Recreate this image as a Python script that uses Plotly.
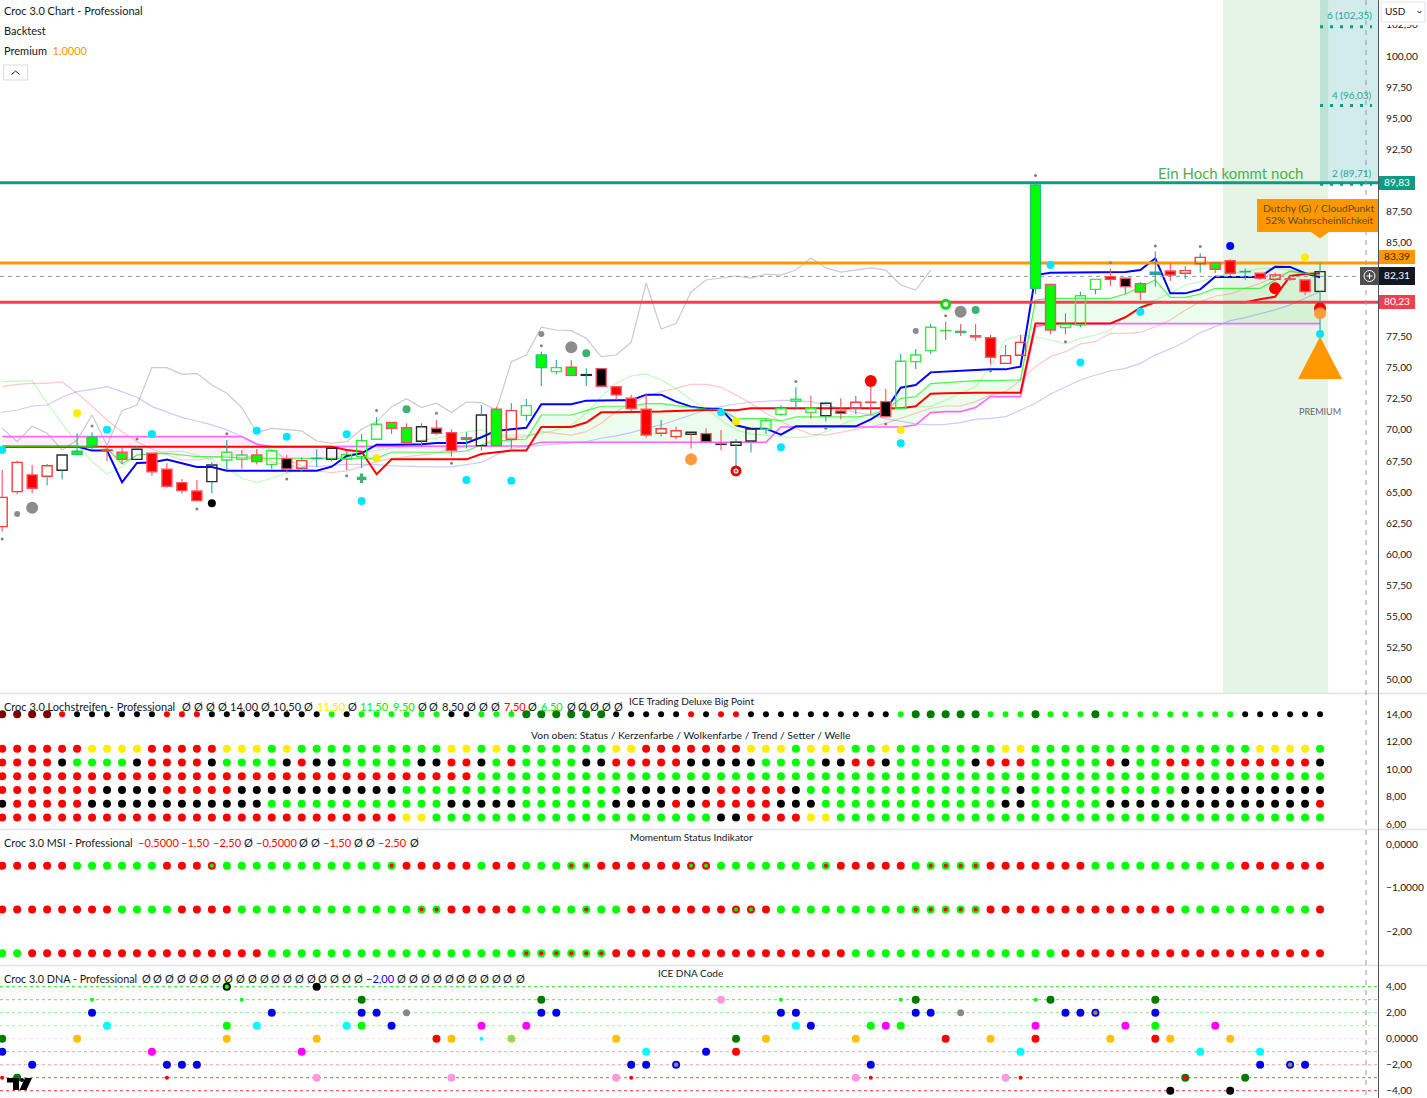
import plotly.graph_objects as go

W, H = 1427, 1098
FONT = "Lato"
TICK_FONT = "Lato"
N = 89
bars = list(range(N))

# ---------- candles (open, high, low, close) ----------
opens = [64.58,67.39,66.38,66.27,66.75,68.01,68.76,68.38,68.2,67.63,68.12,66.83,65.76,65.09,65.84,67.58,67.98,67.98,67.23,67.69,66.91,67.69,67.63,68.03,67.85,69.24,70.6,70.17,69.08,70.12,69.77,69.24,68.73,71.65,69.24,71.16,74.99,74.67,75.02,74.37,74.91,73.46,72.53,71.65,69.72,69.93,69.8,69.69,68.85,68.76,69.1,70.04,71.24,72.29,71.73,71.14,71.51,71.73,72.22,72.26,71.73,75.47,76.35,77.97,77.9,77.55,77.39,75.33,77.02,81.35,81.67,78.2,78.41,81.27,82.29,82.16,81.73,82.48,82.74,82.56,83.33,83.39,83.57,82.68,82.56,82.42,82.12,82.02,81.11]
highs = [66.78,67.53,67.18,67.26,67.98,69.72,69.8,68.7,68.57,68.7,68.12,67.31,66.05,65.97,67.42,69.18,68.38,68.46,68.38,67.98,67.79,68.44,68.52,68.25,69.67,71.0,70.6,70.52,70.52,70.79,70.04,69.8,72.0,71.86,72.13,72.47,76.27,75.6,75.6,74.94,74.91,73.46,72.8,72.85,70.79,70.25,69.8,70.12,69.99,69.24,70.07,70.92,71.97,73.41,72.74,72.26,72.53,72.74,73.6,73.28,76.09,76.49,78.5,78.68,78.49,78.49,77.6,76.81,77.6,89.83,81.67,79.35,81.08,82.07,82.93,82.16,81.89,84.3,83.36,83.15,84.16,83.39,83.68,82.96,82.56,82.61,82.3,82.02,83.36]
lows = [61.83,64.82,64.9,65.55,66.03,68.01,68.38,67.5,67.26,67.63,66.32,65.36,64.88,64.24,64.9,66.78,66.88,67.21,66.86,66.56,66.64,67.01,67.45,66.78,66.91,69.24,69.69,69.0,68.6,69.59,67.85,68.52,68.33,68.73,68.49,70.71,73.52,74.43,74.37,73.52,73.49,72.4,71.46,69.37,69.45,69.24,68.49,69.05,68.35,67.12,68.17,69.67,71.11,71.59,70.9,70.66,70.84,71.24,71.19,71.06,71.73,74.88,76.09,77.21,77.53,77.15,75.23,75.33,75.98,80.9,77.69,77.66,78.22,80.87,81.54,80.87,80.42,81.49,81.94,82.1,82.61,82.56,82.34,82.02,82.02,81.97,81.95,80.82,77.8]
closes = [62.23,65.04,65.31,67.12,67.98,68.28,69.4,68.33,67.63,68.44,66.64,65.47,65.12,64.32,67.18,68.2,67.63,67.45,68.33,66.86,67.53,67.71,68.52,67.63,69.13,70.44,70.12,69.0,70.25,69.72,68.33,69.37,71.19,68.73,71.54,71.94,76.0,74.99,74.37,74.43,73.49,72.8,71.71,69.58,70.09,69.45,69.64,69.05,68.83,69.0,70.07,70.74,71.7,72.45,71.4,72.13,71.32,72.21,72.2,71.06,75.5,76.0,78.23,77.95,77.82,77.45,75.82,75.95,75.98,89.65,78.01,78.46,80.76,82.07,82.07,81.49,81.06,82.64,82.42,82.77,83.84,82.88,82.56,82.7,82.16,82.08,82.08,81.09,82.69]
candle_styles = "aabafddacfbbbbfeeceg" + "ahfeeeccfgbcfcaedecf" + "gbbbaafgfffeeeefgaag" + "eeeedgbaadceeebgchba" + "acbhbabbf"

# ---------- indicator lines ----------
blue_line = [68.65,68.65,68.65,68.65,68.65,68.65,68.33,68.33,65.79,67.34,67.37,67.61,67.31,67.02,67.02,66.72,66.72,66.72,66.72,66.72,66.72,66.72,67.04,67.9,68.11,68.81,68.81,68.81,68.84,68.94,68.94,68.94,69.4,69.93,70.04,70.17,72.05,72.05,72.05,72.34,72.37,72.37,72.37,72.82,72.82,72.26,71.86,71.7,71.67,70.36,70.09,70.09,69.61,70.28,70.28,70.28,70.28,70.28,70.84,71.59,73.38,73.6,74.61,74.69,74.78,74.8,74.85,74.85,75.07,82.42,82.61,82.61,82.61,82.61,82.61,82.66,82.82,83.76,80.95,80.95,81.27,82.29,82.26,82.26,82.26,83.09,83.07,82.56,82.24]
red_line = [68.65,68.65,68.65,68.65,68.65,68.65,68.65,68.65,68.65,68.65,68.65,68.65,68.65,68.65,68.65,68.65,68.65,68.65,68.65,68.65,68.65,68.65,68.65,68.38,68.25,66.43,67.63,67.63,67.63,67.63,67.63,67.63,68.06,68.19,68.33,68.33,70.23,70.23,70.23,70.58,71.4,71.4,71.4,71.4,71.46,71.51,71.57,71.59,71.59,71.57,71.73,71.73,71.73,71.73,71.73,71.73,71.73,71.73,71.73,71.73,71.73,71.89,72.9,72.93,72.97,72.97,72.97,72.97,72.97,78.54,78.54,78.54,78.54,78.54,78.54,79.03,79.8,80.23,80.23,80.23,80.23,80.23,80.23,80.23,80.47,80.68,82.34,82.5,82.56]
green_line = [68.65,68.65,68.65,68.65,68.65,68.65,68.65,68.52,67.26,67.98,68.03,68.11,67.98,67.85,67.85,67.79,67.71,67.71,67.71,67.71,67.71,67.71,67.71,67.71,67.71,67.71,68.2,68.2,68.2,68.2,68.2,68.3,68.8,69.1,69.18,69.26,71.19,71.19,71.19,71.54,71.89,71.89,71.91,72.1,72.1,71.94,71.78,71.67,71.65,70.92,70.9,70.9,70.71,71.03,71.03,71.03,71.03,71.03,71.19,71.59,72.53,72.66,73.71,73.81,73.89,73.95,73.95,73.95,74.0,80.42,80.55,80.55,80.55,80.55,80.55,80.9,81.43,82.02,80.63,80.63,80.9,81.35,81.35,81.35,81.35,82.02,82.74,82.56,82.37]
magenta_line = [69.45,69.45,69.45,69.45,69.45,69.45,69.45,69.45,69.45,69.45,69.45,69.45,69.45,69.45,69.45,69.45,69.45,68.84,68.65,68.65,68.65,68.65,68.65,68.65,68.65,68.65,68.65,68.65,68.65,68.65,68.65,68.65,68.68,68.7,68.7,68.7,69.0,69.0,69.0,69.0,69.0,69.0,69.0,69.0,69.0,69.0,69.0,69.0,69.0,69.0,69.0,69.0,70.23,70.23,70.23,70.23,70.23,70.23,70.23,70.23,70.23,70.39,71.38,71.46,71.46,71.78,72.66,72.66,72.66,78.28,78.52,78.52,78.52,78.52,78.52,78.52,78.52,78.52,78.52,78.52,78.52,78.52,78.52,78.52,78.52,78.52,78.52,78.52,78.52]
pale_green = [73.87,73.89,73.95,72.13,70.52,68.92,67.45,66.46,67.04,67.98,68.11,68.25,68.28,67.98,67.58,66.91,66.11,65.76,66.11,66.51,66.91,67.71,67.71,67.98,68.17,68.38,68.52,68.65,69.18,69.32,69.59,69.85,69.99,69.58,69.58,69.58,69.72,69.99,70.39,71.32,72.66,73.73,74.32,74.48,74.0,73.33,72.39,71.73,70.79,69.99,69.67,69.58,69.45,69.37,69.45,69.85,70.39,70.92,71.32,71.59,71.73,71.86,71.86,72.39,72.93,73.46,75.07,77.21,77.61,77.47,77.21,76.89,77.34,77.61,78.01,79.08,79.88,80.42,80.95,81.62,81.89,82.29,82.56,82.69,82.96,82.96,82.82,82.61,82.42]
pale_red = [73.46,73.65,73.73,73.73,73.84,72.93,71.91,70.79,69.85,69.05,68.44,67.98,67.58,67.58,67.71,67.98,67.98,67.71,67.45,67.18,66.91,66.72,66.56,66.7,67.04,67.45,67.71,67.85,67.98,68.11,68.52,68.65,68.7,69.45,69.4,69.45,69.85,69.72,69.58,69.85,70.52,71.46,72.13,72.66,73.06,73.33,73.65,73.65,73.41,72.8,72.13,71.32,70.66,70.12,69.64,69.58,69.8,69.99,70.25,70.52,70.92,71.32,71.73,71.91,71.91,72.26,72.79,73.06,74.0,75.07,75.87,76.27,76.89,77.07,77.74,77.74,77.82,78.28,78.81,79.62,80.28,80.74,80.9,81.35,81.75,82.29,82.69,82.56,82.56]
pale_blue = [71.41,71.59,71.91,71.99,72.61,73.06,73.25,73.46,73.06,72.61,71.86,71.46,71.0,70.71,70.39,69.99,69.45,68.86,68.38,67.63,67.1,67.04,67.15,67.23,67.23,67.21,67.1,67.04,67.04,67.02,67.02,67.21,67.39,67.98,68.52,68.65,68.76,68.84,68.92,69.05,69.32,69.51,69.77,70.12,70.39,70.79,71.19,71.59,71.86,72.07,72.21,72.31,72.37,72.34,72.26,71.99,71.73,71.4,71.19,70.9,70.66,70.47,70.39,70.44,70.58,70.84,70.92,71.05,71.59,72.13,72.87,73.46,74.0,74.4,74.72,74.93,75.33,76.0,76.49,77.07,77.8,78.28,78.76,79.0,79.29,79.62,80.02,80.55,81.09]
grey_line = [70.12,69.05,70.28,69.72,68.38,69.18,71.19,68.76,71.54,71.99,74.99,74.99,74.45,74.53,73.6,72.93,71.78,69.77,70.12,69.99,69.91,69.1,68.92,69.05,70.04,70.66,71.86,72.5,71.78,72.13,71.38,72.23,72.18,71.59,75.47,76.0,78.23,78.01,77.96,77.34,75.87,76.0,77.02,81.78,78.09,78.55,81.06,82.02,82.18,82.34,82.18,82.5,82.42,82.82,83.79,82.99,82.66,82.82,82.99,82.82,81.62,81.22,82.82]

# ---------- signal dots on the price pane ----------
dot_index = [0,7,10,17,19,23,24,31,34,48,52,60,70,72,76,88, 5,25,49,60,87, 2,1,38,36,61,64, 27,39,65, 46,88,88,58,85, 82,14,
             0,6,9,15,13,19,23,25,29,30,36,53,55,59,63,69,71,74,77,80,66,49]
dot_value = [68.38,70.0,69.67,69.93,69.45,69.64,64.29,65.97,65.92,71.4,68.6,68.92,83.23,75.41,79.48,77.69, 71.33,67.71,70.66,69.99,83.84, 63.75,63.25,76.62,77.69,77.93,79.48, 71.65,76.14,79.61, 67.63,79.75,79.35,73.92,81.35, 84.75,64.1,
             61.24,70.31,69.26,69.69,63.65,66.05,66.32,71.54,71.32,67.31,76.75,73.87,70.12,70.47,79.16,90.4,77.07,83.41,84.75,84.7,74.72,66.7]
dot_color = ["#00e5ff"]*16 + ["#ffeb00"]*5 + ["#8c8c8c"]*6 + ["#3cb371"]*3 + ["#ff9a3c","#ff0000","#ff9a3c","#ff0000","#ff0000","#0000ff","#000000"] + ["#808080"]*22
dot_size = [8]*16 + [8]*5 + [12,6,12,6,6,12] + [8]*3 + [12,12,12,12,12,8,8] + [3]*22
ring_index = [63,49]
ring_value = [80.07,66.7]
ring_color = ["#00e000","#ee0000"]
cross_index = [24]
cross_value = [66.11]

hline_levels = [89.83, 83.39, 80.23]
hline_colors = ["#0e9a84", "#ff9800", "#f23f4f"]
last_price = [82.31]
target_values = [102.35, 96.03, 89.71]
target_labels = ["6 (102,35)", "4 (96,03)", "2 (89,71)"]
premium_tri_x = [86.53, 88.0, 89.47]
premium_tri_y = [74.08, 77.47, 74.08]

# ---------- lower panes ----------
strip_rows = [14.0, 11.5, 10.5, 9.5, 8.5, 7.5, 6.5]
strip_colors = [
 "DDDDRKKKKKKRRRKKKKKKKKGKGGGGGGKKGGGddddddKKKKKRKRRKKKKKKKKKKGdddddGGGdGGGdGGGGGGGGGKKKKKK",
 "RRRRRRYYYYRRRRRYYYGYGGGGGGGGGGYYGYGGGGGGGYYRRRRRRRYYYGYYYGGYGGGGGGGYYGGGGGGGGGGGGGGGYYYYG",
 "RRRRKGGGGKRRRRKGGGGKRKKGGGGGKKRRKGRGGGGKKRRRRRKKKKKGGGGKKRRKGGGGGKRRRGGGGGRKGGRRRGRRRRRRK",
 "RRRRRRRRRRRRRRRRRRRRRRRRRRRRRRRRGGGGGGGGGGGGGGGGGGGGGGGGGGGGGGGGGGGGGGGGGGGGGGGGGGGGGGGGG",
 "RRRRRRRKKKKRRRRRKKKKKKKKKKKGGGGGGGGGGGGGGGKKKKKKRRRRRKGGGGGGGGGGGGGGKGGGGGGGGGGKKKKKKKKKK",
 "KRRRRRKKKKKKKKKKKKGGGGGGGGGGGGKKKKKGGGGGGKKKKRKRRRRRKKKGGGGGGGGGGGGKKGGGGGKKKKKKKKKKKKKKR",
 "RRRRRRRRRRRRRRRRRRRRRRRRRRRYYGGGGGGGGGGGGGGGGGGGKKRRRRYYGGGGGGGGGGGGGGGGGGGGGGGGGGGGGGGGG",
]
msi_rows = [-0.5, -1.5, -2.5]
msi_colors = [
 "RRRRRGGGGGGRRRrGGGGGGGGGGGgRRRRRGRRGGGggRRRRRRrrGGGGGGGgRRRRRGggggRRRRRRRGGGGGGGGGGRRRRRR",
 "RRRRRRRRGGGGRRRRGGGGGGGGGGGGggRRRRRGGGGgGGRRRRRRRrrRGGGGGGGGGgggggRRRRRRRRRRRRRGGGGGGGGGR",
 "GGRRRRRRRRRRRRRRRRGGGGGGGGGGGGGGGGGggggggRRRRRRRRRRRRRRRRGGGGGGGGGGGGGGRRRRRRRRRRRRRRRRRR",
]
dna_levels = [4, 3, 2, 1, 0, -1, -2, -3, -4]
dna_level_colors = ["#22e622", "#55ee55", "#88f088", "#a8f5a8", "#e4e4e4", "#ff9c9c", "#ff9c9c", "#ff5555", "#ff3333"]
BLUE, CYAN, LIME, DGRN, AMB, MAG, PINK, RED, BLK, GREY = "#0000ee", "#00ffff", "#00ff00", "#007a00", "#ffc000", "#ff00ff", "#ff99dd", "#ff0000", "#000000", "#888888"
dna_index = [15,21, 6,16,24,36,48,52,60,61,69,70,77, 6,18,24,25,27,36,37,52,53,61,62,64,71,72,73,77, 7,15,17,23,24,26,32,35,53,54,58,59,60,69,75,77,81,
             0,5,15,21,29,30,32,34,41,49,51,57,63,66,69,74,77,78,82, 0,10,20,43,47,49,68,80,84, 2,11,12,13,42,43,45,58,84,86,87, 0,1,11,21,30,41,42,57,58,67,68,79,83, 78,82]
dna_value = [4,4, 3,3,3,3,3,3,3,3,3,3,3, 2,2,2,2,2,2,2,2,2,2,2,2,2,2,2,2, 1,1,1,1,1,1,1,1,1,1,1,1,1,1,1,1,1,
             0,0,0,0,0,0,0,0,0,0,0,0,0,0,0,0,0,0,0, -1,-1,-1,-1,-1,-1,-1,-1,-1, -2,-2,-2,-2,-2,-2,-2,-2,-2,-2,-2, -3,-3,-3,-3,-3,-3,-3,-3,-3,-3,-3,-3,-3, -4,-4]
dna_color = [BLK,BLK, LIME,LIME,DGRN,DGRN,PINK,LIME,LIME,DGRN,LIME,DGRN,DGRN, BLUE,BLUE,BLUE,BLUE,GREY,BLUE,BLUE,BLUE,BLUE,BLUE,BLUE,GREY,BLUE,BLUE,BLUE,BLUE,
             CYAN,LIME,CYAN,CYAN,LIME,BLUE,MAG,MAG,CYAN,BLUE,LIME,MAG,LIME,MAG,MAG,LIME,MAG,
             DGRN,AMB,AMB,AMB,RED,AMB,CYAN,AMB,AMB,DGRN,AMB,AMB,RED,AMB,RED,AMB,RED,AMB,AMB, BLUE,MAG,MAG,CYAN,BLUE,RED,CYAN,CYAN,CYAN,
             BLUE,BLUE,BLUE,BLUE,BLUE,BLUE,BLUE,BLUE,BLUE,BLUE,BLUE, RED,DGRN,RED,PINK,PINK,PINK,RED,PINK,RED,PINK,RED,DGRN,DGRN, BLK,BLK]
dna_size = [8,8, 4,4,8,8,8,4,4,8,4,8,8, 8,8,8,8,7,8,8,8,8,8,8,7,8,8,8,8, 8,8,8,8,8,8,8,8,8,8,8,8,8,8,8,8,8,
            8,8,8,8,8,8,4,8,8,8,8,8,8,8,8,8,8,8,8, 8,8,8,8,8,8,8,8,8, 8,8,8,8,8,8,8,8,8,8,8, 4,8,4,8,8,8,4,8,4,8,4,8,8, 8,8]
dna_core_index = [34, 15, 79, 45, 73, 86]
dna_core_value = [0, 4, -3, -2, 2, -2]
dna_core_color = [CYAN, LIME, RED, GREY, GREY, GREY]

# 80,00 / 82,50 / 90,00 lie behind the price tags in the reference, so they are left out
main_ticks = [50,52.5,55,57.5,60,62.5,65,67.5,70,72.5,75,77.5,85,87.5,92.5,95,97.5,100,102.5]
main_tick_text = ["50,00","52,50","55,00","57,50","60,00","62,50","65,00","67,50","70,00","72,50","75,00","77,50","85,00","87,50","92,50","95,00","97,50","100,00","102,50"]
strip_ticks = [14,12,10,8,6]
strip_tick_text = ["14,00","12,00","10,00","8,00","6,00"]
msi_ticks = [0,-1,-2]
msi_tick_text = ["0,0000","\u22121,0000","\u22122,00"]
dna_ticks = [4,2,0,-2,-4]
dna_tick_text = ["4,00","2,00","0,0000","\u22122,00","\u22124,00"]

# ---------- layout frame (pixels of the page) ----------
def PX(p): return p / W
def PY(p): return 1 - p / H

AXIS_X = 1378
X_RANGE = [-0.147, 91.87]
x_domain = [0, AXIS_X / W]
PANES = {"": (0, 693, [48.88, 104.49]), "2": (694, 829, [5.66, 15.48]), "3": (830, 965, [-2.77, 0.32]), "4": (966, 1098, [-4.56, 5.59])}

fig = go.Figure()
TEAL_W, RED_W = "#26a69a", "#f7525f"
STYLE = {
    "a": ("rgba(0,0,0,0)", "#ff3b3b"), "b": ("#ff0000", "#f7525f"), "c": ("#00ff00", "#f7525f"),
    "d": ("#00ff00", "#26c281"), "e": ("rgba(0,0,0,0)", "#33f033"), "f": ("rgba(0,0,0,0)", "#2a2a2a"),
    "g": ("#000000", "#f7525f"), "h": ("#26a69a", "#26a69a"),
}

def line(y, color, width, x=None, dash=None):
    fig.add_trace(go.Scatter(x=bars if x is None else x, y=y, mode="lines", line=dict(color=color, width=width, dash=dash),
                             hoverinfo="skip", showlegend=False))

# cloud fills
fig.add_trace(go.Scatter(x=bars[:33], y=magenta_line[:33], mode="lines", line=dict(width=0), hoverinfo="skip", showlegend=False))
fig.add_trace(go.Scatter(x=bars[:33], y=green_line[:33], mode="lines", line=dict(width=0), fill="tonexty", fillcolor="rgba(255,0,255,0.06)", hoverinfo="skip", showlegend=False))
fig.add_trace(go.Scatter(x=bars[32:], y=magenta_line[32:], mode="lines", line=dict(width=0), hoverinfo="skip", showlegend=False))
fig.add_trace(go.Scatter(x=bars[32:], y=green_line[32:], mode="lines", line=dict(width=0), fill="tonexty", fillcolor="rgba(0,220,0,0.07)", hoverinfo="skip", showlegend=False))

line(pale_blue, "rgba(70,70,255,0.28)", 1.2)
line(pale_red, "rgba(255,60,60,0.28)", 1.2)
line(pale_green, "rgba(30,240,30,0.28)", 1.2)
line(grey_line, "rgba(90,90,90,0.32)", 1.2, x=bars[:len(grey_line)])
line(magenta_line, "#ff66ff", 1.6)
line(blue_line, "#0000ff", 2)
line(red_line, "#ff0000", 2)
line(green_line, "rgba(20,245,20,0.75)", 1.2)

for lv, col in zip(hline_levels, hline_colors):
    line([lv, lv], col, 3, x=X_RANGE)
line([last_price[0], last_price[0]], "#8d9bb0", 1, x=X_RANGE, dash="4px 4px")
for v in target_values:
    line([v, v], "#009e88", 3, x=[88, 91.47], dash="3px 7px")

# candle bodies and wicks, on an overlaying pair of axes so that they sit above the lines
body_low = [min(o, c) for o, c in zip(opens, closes)]
body_high = [max(o, c) for o, c in zip(opens, closes)]
fig.add_trace(go.Bar(x=bars, y=[t - b for t, b in zip(body_high, body_low)], base=body_low, width=0.67,
                     marker=dict(color=[STYLE[s][0] for s in candle_styles],
                                 line=dict(color=[STYLE[s][1] for s in candle_styles], width=1.4)),
                     xaxis="x5", yaxis="y5", hoverinfo="skip", showlegend=False))
for up, col in ((True, TEAL_W), (False, RED_W)):
    wx, wy = [], []
    for i in bars:
        if (closes[i] >= opens[i]) == up:
            wx += [i, i, None, i, i, None]
            wy += [highs[i], body_high[i], None, body_low[i], lows[i], None]
    fig.add_trace(go.Scatter(x=wx, y=wy, mode="lines", line=dict(color=col, width=1.1), xaxis="x5", yaxis="y5", hoverinfo="skip", showlegend=False))

fig.add_trace(go.Scatter(x=ring_index, y=ring_value, mode="markers", marker=dict(color="#ffffff", size=8, opacity=1, line=dict(color=ring_color, width=3)),
                         xaxis="x5", yaxis="y5", hoverinfo="skip", showlegend=False))
fig.add_trace(go.Scatter(x=dot_index, y=dot_value, mode="markers", marker=dict(color=dot_color, size=dot_size, opacity=1, line=dict(width=0)),
                         xaxis="x5", yaxis="y5", hoverinfo="skip", showlegend=False))
fig.add_trace(go.Scatter(x=cross_index, y=cross_value, mode="markers", marker=dict(color="#3cb371", size=8, symbol="cross", line=dict(width=0)),
                         xaxis="x5", yaxis="y5", hoverinfo="skip", showlegend=False))
fig.add_trace(go.Scatter(x=premium_tri_x, y=premium_tri_y, mode="lines", fill="toself", fillcolor="#ff9800", line=dict(width=0),
                         xaxis="x5", yaxis="y5", hoverinfo="skip", showlegend=False))

# strip pane
CMAP = {"D": "#7a0000", "R": "#ff0000", "K": "#000000", "G": "#00ff00", "d": "#007a00", "Y": "#ffee00"}
for r, (val, cols) in enumerate(zip(strip_rows, strip_colors)):
    sizes = [(8 if c in "Dd" else 6) for c in cols] if r == 0 else [8] * N
    fig.add_trace(go.Scatter(x=bars, y=[val] * N, mode="markers", marker=dict(color=[CMAP[c] for c in cols], size=sizes, opacity=1, line=dict(width=0)),
                             xaxis="x2", yaxis="y2", hoverinfo="skip", showlegend=False))

# MSI pane
OUT = {"R": "#ff0000", "G": "#00ff00", "g": "#00ff00", "r": "#ff0000"}
for val, cols in zip(msi_rows, msi_colors):
    fig.add_trace(go.Scatter(x=bars, y=[val] * N, mode="markers", marker=dict(color=[OUT[c] for c in cols], size=8, opacity=1, line=dict(width=0)),
                             xaxis="x3", yaxis="y3", hoverinfo="skip", showlegend=False))
    core_x = [i for i, c in enumerate(cols) if c in "gr"]
    fig.add_trace(go.Scatter(x=core_x, y=[val] * len(core_x), mode="markers",
                             marker=dict(color=["#ff0000" if cols[i] == "g" else "#00ff00" for i in core_x], size=4, opacity=1, line=dict(width=0)),
                             xaxis="x3", yaxis="y3", hoverinfo="skip", showlegend=False))

# DNA pane
for lv, col in zip(dna_levels, dna_level_colors):
    fig.add_trace(go.Scatter(x=X_RANGE, y=[lv, lv], mode="lines", line=dict(color=col, width=1, dash="3px 3px"),
                             xaxis="x4", yaxis="y4", hoverinfo="skip", showlegend=False))
fig.add_trace(go.Scatter(x=dna_index, y=dna_value, mode="markers", marker=dict(color=dna_color, size=dna_size, opacity=1, line=dict(width=0)),
                         xaxis="x4", yaxis="y4", hoverinfo="skip", showlegend=False))
fig.add_trace(go.Scatter(x=dna_core_index, y=dna_core_value, mode="markers", marker=dict(color=dna_core_color, size=4.5, opacity=1, line=dict(width=0)),
                         xaxis="x4", yaxis="y4", hoverinfo="skip", showlegend=False))

# axes
tick_font = dict(family=TICK_FONT, size=10.2, color="#131722")
TICKS = {"": (main_ticks, main_tick_text), "2": (strip_ticks, strip_tick_text), "3": (msi_ticks, msi_tick_text), "4": (dna_ticks, dna_tick_text)}
layout = dict(width=W, height=H, autosize=False, margin=dict(l=0, r=0, t=0, b=0, pad=0, autoexpand=False), paper_bgcolor="#ffffff", plot_bgcolor="rgba(0,0,0,0)",
              showlegend=False, barmode="overlay", hovermode=False)
for k, (top, bottom, rng) in PANES.items():
    xname, yname = "xaxis" + k, "yaxis" + k
    layout[xname] = dict(domain=x_domain, range=X_RANGE, visible=False, anchor="y" + k, fixedrange=True, automargin=False)
    layout[yname] = dict(domain=[PY(bottom), PY(top)], range=rng, side="right", anchor="x" + k, tickmode="array", tickvals=TICKS[k][0], ticktext=TICKS[k][1],
                         tickfont=tick_font, ticks="outside", ticklen=5, tickcolor="rgba(0,0,0,0)", showgrid=False, zeroline=False, showline=False, fixedrange=True, automargin=False)
layout["xaxis5"] = dict(domain=x_domain, range=X_RANGE, visible=False, overlaying="x", anchor="y5", fixedrange=True, automargin=False)
layout["yaxis5"] = dict(domain=[PY(693), PY(0)], range=PANES[""][2], visible=False, overlaying="y", anchor="x5", fixedrange=True, automargin=False)

# chrome
shapes, notes = [], []
def rect(x0, y0, x1, y1, fill, line_col=None, layer="above", lw=1):
    shapes.append(dict(type="rect", xref="paper", yref="paper", x0=PX(x0), x1=PX(x1), y0=PY(y0), y1=PY(y1), fillcolor=fill,
                       line=dict(color=line_col or fill, width=lw if line_col else 0), layer=layer))
def seg(x0, y0, x1, y1, col, w=1, dash=None, layer="above"):
    shapes.append(dict(type="line", xref="paper", yref="paper", x0=PX(x0), x1=PX(x1), y0=PY(y0), y1=PY(y1), line=dict(color=col, width=w, dash=dash), layer=layer))
def poly(pts, fill, layer="above"):
    path = "M " + " L ".join(f"{PX(a):.5f},{PY(b):.5f}" for a, b in pts) + " Z"
    shapes.append(dict(type="path", xref="paper", yref="paper", path=path, fillcolor=fill, line=dict(width=0), layer=layer))
def note(x, y, text, size=11, color="#131722", anchor="left", family=FONT):
    notes.append(dict(xref="paper", yref="paper", x=PX(x), y=PY(y - 0.8), text=text, showarrow=False, xanchor=anchor, yanchor="middle",
                      font=dict(family=family, size=size, color=color), borderpad=0, borderwidth=0))

# bands behind the chart
shapes.append(dict(type="rect", xref="x", yref="paper", x0=81.52, x1=88.54, y0=PY(693), y1=1, fillcolor="rgba(76,175,80,0.14)", line=dict(width=0), layer="below"))
shapes.append(dict(type="rect", xref="x", yref="paper", x0=88.0, x1=X_RANGE[1], y0=PY(183), y1=1, fillcolor="rgba(0,150,136,0.18)", line=dict(width=0), layer="below"))

for yy in (693.5, 829.5, 965.5):
    seg(0, yy, W, yy, "#e0e3eb", 1.5)
seg(1366, 0, 1366, H, "#9598a1", 1, dash="5px 5px")
seg(AXIS_X + 0.5, 0, AXIS_X + 0.5, H, "#50535e", 1)

# price tags
rect(1379, 176, 1415, 190, "#0e9a84")
note(1397, 183, "89,83", 10.2, "#ffffff", "center", TICK_FONT)
rect(1379, 250, 1415, 264, "#ff9800")
note(1397, 257, "83,39", 10.2, "#3a2a00", "center", TICK_FONT)
rect(1379, 267, 1415, 285, "#131722")
note(1397, 276, "82,31", 10.2, "#ffffff", "center", TICK_FONT)
rect(1379, 295, 1415, 309, "#f23f4f")
note(1397, 302, "80,23", 10.2, "#ffffff", "center", TICK_FONT)
rect(1360, 267, 1379, 285, "#4e4e4e")
shapes.append(dict(type="circle", xref="paper", yref="paper", x0=PX(1364), x1=PX(1375), y0=PY(270.5), y1=PY(281.5), line=dict(color="#ffffff", width=1), layer="above"))
seg(1366.5, 276, 1372.5, 276, "#ffffff", 1)
seg(1369.5, 273, 1369.5, 279, "#ffffff", 1)

# currency box
rect(1380, 0, 1427, 25, "#ffffff")
rect(1381, 2, 1425, 22, "#ffffff", "#e0e3eb")
note(1385, 12, "USD", 10, "#131722")
seg(1417.5, 11, 1419.5, 13, "#131722", 1)
seg(1419.5, 13, 1421.5, 11, "#131722", 1)

# tooltip
rect(1257, 199, 1378, 232, "#ff9800")
poly([(1311, 232), (1329, 232), (1320, 238.5)], "#ff9800")
note(1319, 209, "Dutchy (G) / CloudPunkt", 10.3, "#5e4a20", "center")
note(1319, 221, "52% Wahrscheinlichkeit", 10.3, "#5e4a20", "center")
note(1320, 412, "PREMIUM", 9, "#666666", "center")
note(1303, 174, "Ein Hoch kommt noch", 15, "#4caf50", "right")
for lbl, yy in zip(target_labels, (16, 96, 174)):
    note(1372, yy, lbl, 10, "#26a69a", "right")

# header
note(4, 11, "Croc 3.0 Chart - Professional")
note(4, 31, "Backtest")
note(4, 51, 'Premium  <span style="color:#ff9800">1,0000</span>')
shapes.append(dict(type="rect", xref="paper", yref="paper", x0=PX(3.5), x1=PX(27.5), y0=PY(65), y1=PY(80), fillcolor="#ffffff", line=dict(color="#d9dbe3", width=1), layer="above"))
seg(11.5, 74.5, 15.5, 71, "#131722", 1)
seg(15.5, 71, 19.5, 74.5, "#131722", 1)

# pane legends: one text per value
OE = "\u00d8"
Yc, Gc, Rc, Bc, Kc = "#ffeb00", "#00ee00", "#ff0000", "#0000ff", "#131722"
strip_tokens = [OE,OE,OE,OE,"14,00",OE,"10,50",OE,"11,50",OE,"11,50","9,50",OE,OE,"8,50",OE,OE,OE,"7,50",OE,"6,50",OE,OE,OE,OE,OE]
strip_token_colors = [Kc,Kc,Kc,Kc,Kc,Kc,Kc,Kc,Yc,Kc,Gc,Gc,Kc,Kc,Kc,Kc,Kc,Kc,Rc,Kc,Gc,Kc,Kc,Kc,Kc,Kc]
strip_token_pos = [186.6,198.7,210.3,222.3,244,265.6,287.5,308.5,331,352.7,374,404,422,433,452.5,471,483.5,495.5,515,532.6,552,571.4,582.6,594.6,606.3,618.3]
msi_tokens = ["\u22120,5000","\u22121,50","\u22122,50",OE,"\u22120,5000",OE,OE,"\u22121,50",OE,OE,"\u22122,50",OE]
msi_token_colors = [Rc,Rc,Rc,Kc,Rc,Kc,Kc,Rc,Kc,Kc,Rc,Kc]
msi_token_pos = [158,195.5,227,248.7,276.4,303.6,315.6,337.5,358.5,370.5,392.4,414.3]
dna_tokens = [OE]*19 + ["\u22122,00"] + [OE]*11
dna_token_colors = [Kc]*19 + [Bc] + [Kc]*11
dna_token_pos = [146,157,169,181,193,205,216.5,228.6,240.6,252,264,275.4,287.5,299,311,322.8,334.8,346.4,358.5,380,401.8,413.4,425,437,449,460.7,472.8,484.8,496.4,508,520]

note(4, 707, "Croc 3.0 Lochstreifen - Professional")
note(4, 843, "Croc 3.0 MSI - Professional", 10.8)
note(4, 979, "Croc 3.0 DNA - Professional", 10.8)
for toks, cols, pos, yy in ((strip_tokens, strip_token_colors, strip_token_pos, 707),
                            (msi_tokens, msi_token_colors, msi_token_pos, 843),
                            (dna_tokens, dna_token_colors, dna_token_pos, 979)):
    for t, col, p in zip(toks, cols, pos):
        note(p, yy, t, 11, col, "center")
note(691, 701.5, "ICE Trading Deluxe Big Point", 10, "#131722", "center")
note(691, 735.5, "Von oben: Status / Kerzenfarbe / Wolkenfarbe / Trend / Setter / Welle", 10.4, "#131722", "center")
note(691, 837.5, "Momentum Status Indikator", 10, "#131722", "center")
note(690, 973.5, "ICE DNA Code", 10, "#131722", "center")

# logo
poly([(7, 1078), (19, 1078), (19, 1090), (13, 1090), (13, 1082.5), (7, 1082.5)], "#000000")
poly([(25, 1078), (32, 1078), (26.5, 1090), (19.5, 1090)], "#000000")
shapes.append(dict(type="circle", xref="paper", yref="paper", x0=PX(20), x1=PX(24), y0=PY(1078), y1=PY(1082), fillcolor="#000000", line=dict(width=0), layer="above"))

layout["shapes"] = shapes
layout["annotations"] = notes
fig.update_layout(**layout)
fig.write_html("out.html", config={"displayModeBar": False}, post_script="document.body.style.margin='0';document.body.style.overflow='hidden';")
